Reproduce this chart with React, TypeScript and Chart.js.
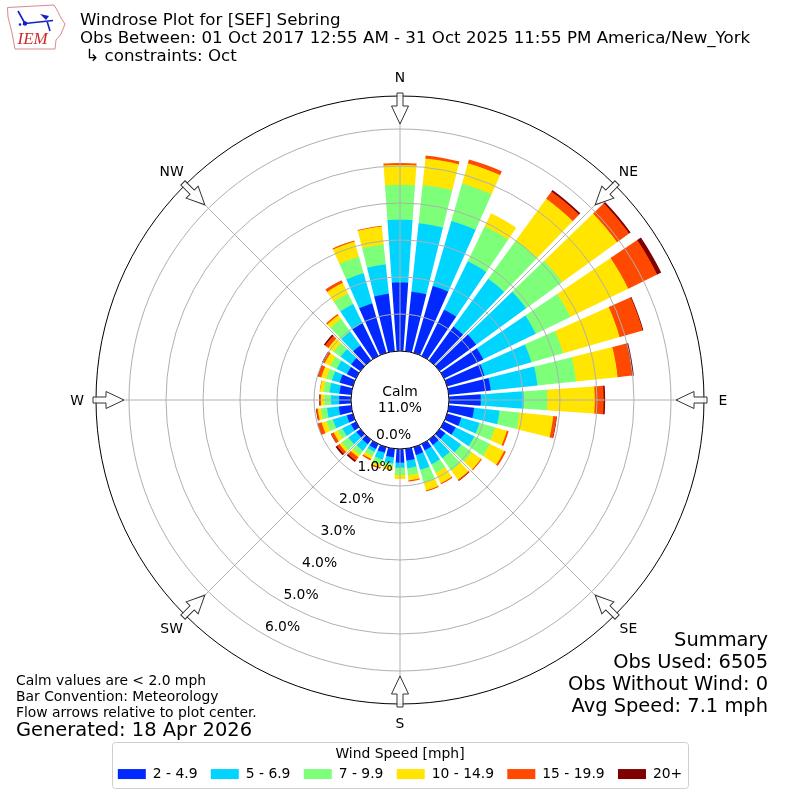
import React, { useEffect, useRef } from "react";
import { Chart, registerables } from "chart.js";

Chart.register(...registerables);

const FONT = "'DejaVu Sans'";

const compass = ["N", "NE", "E", "SE", "S", "SW", "W", "NW"];
const directions = [0, 10, 20, 30, 40, 50, 60, 70, 80, 90, 100, 110, 120, 130, 140, 150, 160, 170, 180, 190, 200, 210, 220, 230, 240, 250, 260, 270, 280, 290, 300, 310, 320, 330, 340, 350];
const binLabels = ["2 - 4.9", "5 - 6.9", "7 - 9.9", "10 - 14.9", "15 - 19.9", "20+"];
const binColors = ["#0028ff", "#00d5ff", "#7dff7a", "#ffe500", "#ff4800", "#7f0000"];

const bin2to5 = [1.85, 1.62, 1.88, 1.39, 1.13, 1.22, 1.18, 1.05, 1.14, 0.86, 0.69, 0.40, 0.35, 0.19, 0.18, 0.19, 0.22, 0.32, 0.37, 0.23, 0.16, 0.15, 0.15, 0.13, 0.15, 0.17, 0.34, 0.32, 0.32, 0.37, 0.27, 0.31, 0.50, 0.98, 1.39, 1.56];
const bin5to7 = [1.70, 1.86, 1.83, 1.46, 1.60, 1.67, 1.58, 1.32, 1.27, 1.16, 0.69, 0.51, 0.56, 0.53, 0.44, 0.42, 0.42, 0.21, 0.14, 0.17, 0.19, 0.09, 0.22, 0.27, 0.26, 0.39, 0.32, 0.22, 0.27, 0.22, 0.31, 0.35, 0.46, 0.58, 0.85, 0.80];
const bin7to10 = [0.94, 1.04, 1.05, 1.05, 1.28, 1.20, 1.04, 0.89, 1.05, 0.64, 0.54, 0.44, 0.47, 0.35, 0.41, 0.26, 0.35, 0.19, 0.19, 0.08, 0.15, 0.12, 0.14, 0.22, 0.14, 0.18, 0.16, 0.18, 0.16, 0.16, 0.19, 0.23, 0.42, 0.32, 0.46, 0.54];
const bin10to15 = [0.54, 0.72, 0.57, 0.39, 1.39, 1.84, 1.74, 1.59, 1.13, 1.28, 0.92, 0.33, 0.43, 0.31, 0.31, 0.31, 0.23, 0.14, 0.11, 0.09, 0.07, 0.09, 0.08, 0.08, 0.12, 0.14, 0.09, 0.09, 0.10, 0.14, 0.17, 0.18, 0.13, 0.32, 0.43, 0.49];
const bin15to20 = [0.05, 0.08, 0.11, 0, 0.24, 0.40, 0.87, 0.65, 0.39, 0.24, 0.09, 0.05, 0.05, 0.03, 0.03, 0.03, 0.03, 0.03, 0, 0.01, 0.04, 0.04, 0.11, 0.08, 0.08, 0.11, 0.04, 0.04, 0.01, 0.09, 0.05, 0.11, 0.04, 0.08, 0.03, 0.02];
const bin20plus = [0, 0, 0, 0, 0.05, 0.05, 0.12, 0.02, 0.05, 0.04, 0.01, 0, 0, 0, 0.01, 0, 0, 0, 0, 0, 0, 0, 0.05, 0.05, 0.01, 0.01, 0.01, 0.01, 0, 0.01, 0.03, 0.04, 0, 0, 0, 0];
const bins = [bin2to5, bin5to7, bin7to10, bin10to15, bin15to20, bin20plus];

const radialTicks = [0, 1, 2, 3, 4, 5, 6];
const radialMin = -1.3243;
const radialMax = 6.892;
const barDegrees = 8;
const gapDegrees = 2;

const titleLines = [
  "Windrose Plot for [SEF] Sebring",
  "Obs Between: 01 Oct 2017 12:55 AM - 31 Oct 2025 11:55 PM America/New_York",
  " \u21b3 constraints: Oct",
];
const noteLines = ["Calm values are < 2.0 mph", "Bar Convention: Meteorology", "Flow arrows relative to plot center."];
const generatedText = "Generated: 18 Apr 2026";
const summaryLines = ["Summary", "Obs Used: 6505", "Obs Without Wind: 0", "Avg Speed: 7.1 mph"];
const calmLines = ["Calm", "11.0%"];

// slots: half of the north bar, then gap + bar for each direction, then gap and the other half of north
function slotAngles(): number[] {
  const out = [barDegrees / 2];
  for (let i = 1; i < directions.length; i++) out.push(gapDegrees, barDegrees);
  out.push(gapDegrees, barDegrees / 2);
  return out;
}
function slotValues(values: number[]): number[] {
  const out = [values[0]];
  for (let i = 1; i < values.length; i++) out.push(radialMin, values[i]);
  out.push(radialMin, values[0]);
  return out;
}
const angles = slotAngles();
const cumulative = bins.map((_, b) => directions.map((_d, i) => bins.slice(0, b + 1).reduce((s, arr) => s + arr[i], 0)));

function drawLogo(ctx: CanvasRenderingContext2D) {
  ctx.save();
  ctx.beginPath();
  const outline = [[7.5, 7.5], [54, 5], [57, 10], [61, 18], [65, 24], [61, 34], [56, 40], [55, 49], [15, 49], [12, 33], [8, 17]];
  outline.forEach(([x, y], i) => (i ? ctx.lineTo(x, y) : ctx.moveTo(x, y)));
  ctx.closePath();
  ctx.fillStyle = "#fff";
  ctx.fill();
  ctx.strokeStyle = "#d98a8a";
  ctx.lineWidth = 1;
  ctx.stroke();
  ctx.strokeStyle = "#1420c8";
  ctx.fillStyle = "#1420c8";
  ctx.lineWidth = 1.6;
  ctx.beginPath();
  ctx.moveTo(25, 23.5);
  ctx.lineTo(53, 20.5);
  ctx.moveTo(18, 11);
  ctx.lineTo(25, 23.5);
  ctx.moveTo(47, 21);
  ctx.lineTo(50, 31);
  ctx.stroke();
  ctx.beginPath();
  ctx.moveTo(40, 14);
  ctx.lineTo(49, 16);
  ctx.lineTo(46, 20);
  ctx.closePath();
  ctx.fill();
  ctx.beginPath();
  ctx.arc(25, 23.5, 2.2, 0, Math.PI * 2);
  ctx.arc(20, 24.5, 1.3, 0, Math.PI * 2);
  ctx.fill();
  ctx.fillStyle = "#d02828";
  ctx.font = "italic 17px 'Liberation Serif'";
  ctx.textAlign = "left";
  ctx.textBaseline = "alphabetic";
  ctx.fillText("IEM", 17.5, 44);
  ctx.restore();
}

const decorations = {
  id: "decorations",
  // turn each overlaid wedge into the ring of its own speed bin
  afterDatasetsUpdate(chart: any) {
    const scale = chart.scales.r;
    bins.forEach((values, b) => {
      if (b === 0) return;
      const arcs = chart.getDatasetMeta(b).data;
      arcs.forEach((arc: any, slot: number) => {
        if (slot % 2 === 1) return;
        const dir = (slot / 2) % directions.length;
        if (values[dir] === 0) {
          arc.outerRadius = 0;
          arc.innerRadius = 0;
        } else {
          arc.innerRadius = scale.getDistanceFromCenterForValue(cumulative[b - 1][dir]) - 0.5;
        }
      });
    });
  },
  beforeDraw(chart: any) {
    const ctx: CanvasRenderingContext2D = chart.ctx;
    ctx.save();
    ctx.fillStyle = "#fff";
    ctx.fillRect(0, 0, 800, 800);
    ctx.strokeStyle = "#cfcfcf";
    ctx.lineWidth = 1;
    ctx.beginPath();
    (ctx as any).roundRect(112.5, 742.5, 576, 46, 3);
    ctx.stroke();
    ctx.restore();
  },
  afterDraw(chart: any) {
    const ctx: CanvasRenderingContext2D = chart.ctx;
    const scale = chart.scales.r;
    const cx = scale.xCenter;
    const cy = scale.yCenter;
    const holeR = scale.getDistanceFromCenterForValue(0);
    ctx.save();

    ctx.beginPath();
    ctx.arc(cx, cy, holeR, 0, Math.PI * 2);
    ctx.fillStyle = "#fff";
    ctx.fill();
    ctx.strokeStyle = "#000";
    ctx.lineWidth = 1;
    ctx.stroke();

    compass.forEach((name, i) => {
      ctx.save();
      ctx.translate(cx, cy);
      ctx.rotate(scale.getIndexAngle(i));
      const pts = [[-3, -307], [3, -307], [3, -294], [8.5, -294], [0, -276], [-8.5, -294], [-3, -294]];
      ctx.beginPath();
      pts.forEach(([x, y], k) => (k ? ctx.lineTo(x, y) : ctx.moveTo(x, y)));
      ctx.closePath();
      ctx.fillStyle = "rgba(255,255,255,0.85)";
      ctx.fill();
      ctx.strokeStyle = "#333";
      ctx.lineWidth = 1;
      ctx.stroke();
      ctx.restore();

      const p = scale.getPointPosition(i, 323);
      ctx.fillStyle = "#000";
      ctx.font = `13.89px ${FONT}`;
      ctx.textAlign = "center";
      ctx.textBaseline = "middle";
      ctx.fillText(name, p.x, p.y + 1);
    });

    ctx.fillStyle = "#000";
    ctx.font = `13.89px ${FONT}`;
    ctx.textAlign = "center";
    ctx.textBaseline = "middle";
    radialTicks.forEach((t) => {
      const d = scale.getDistanceFromCenterForValue(t);
      const p = scale.getPointPosition(0, d, (210 * Math.PI) / 180);
      ctx.fillText(`${t.toFixed(1)}%`, p.x + 18, p.y - 7);
    });
    ctx.fillText(calmLines[0], cx, 392);
    ctx.fillText(calmLines[1], cx, 408);

    ctx.textAlign = "left";
    ctx.textBaseline = "alphabetic";
    ctx.font = `16.67px ${FONT}`;
    titleLines.forEach((line, i) => ctx.fillText(line, 80, 25 + i * 18));

    ctx.font = `13.89px ${FONT}`;
    noteLines.forEach((line, i) => ctx.fillText(line, 16, 685 + i * 16));
    ctx.font = `19.44px ${FONT}`;
    ctx.fillText(generatedText, 16, 736);

    ctx.textAlign = "right";
    summaryLines.forEach((line, i) => ctx.fillText(line, 768, 646 + i * 22));

    drawLogo(ctx);
    ctx.restore();
  },
};

export default function App() {
  const ref = useRef<HTMLCanvasElement | null>(null);
  useEffect(() => {
    if (!ref.current) return;
    Chart.defaults.font.family = FONT;
    const chart = new Chart(ref.current, {
      type: "polarArea",
      data: {
        labels: compass,
        datasets: cumulative.map((values, b) => ({
          label: binLabels[b],
          data: slotValues(values),
          backgroundColor: binColors[b],
          borderWidth: 0,
          angle: (ctx: any) => angles[ctx.dataIndex],
        })),
      } as any,
      options: {
        responsive: false,
        animation: false,
        events: [],
        layout: { padding: { top: 96, left: 96, right: 96, bottom: 9 } },
        scales: {
          r: {
            min: radialMin,
            max: radialMax,
            startAngle: 0,
            afterBuildTicks: (axis: any) => {
              axis.ticks = [...radialTicks, radialMax].map((value) => ({ value }));
            },
            ticks: { display: false },
            pointLabels: { display: false },
            angleLines: { display: true, color: "#b0b0b0", lineWidth: 1 },
            grid: {
              z: 1,
              circular: true,
              lineWidth: 1,
              color: (ctx: any) => (ctx.tick && ctx.tick.value > 6.5 ? "#000" : "#b0b0b0"),
            },
          },
        } as any,
        plugins: {
          tooltip: { enabled: false },
          title: { display: false },
          legend: {
            display: true,
            position: "bottom",
            title: {
              display: true,
              text: "Wind Speed [mph]",
              color: "#000",
              font: { family: FONT, size: 13.89 },
              padding: { top: 43, bottom: -9.92 },
            },
            labels: {
              boxWidth: 28,
              boxHeight: 10,
              padding: 13.3,
              color: "#000",
              font: { family: FONT, size: 13.89 },
              generateLabels: () =>
                binLabels.map((text, i) => ({
                  text,
                  fillStyle: binColors[i],
                  strokeStyle: binColors[i],
                  lineWidth: 0,
                  hidden: false,
                  datasetIndex: i,
                  fontColor: "#000",
                })),
            },
          },
        },
      } as any,
      plugins: [decorations],
    } as any);
    return () => chart.destroy();
  }, []);
  return (
    <div style={{ position: "absolute", left: 0, top: 0, width: 800, height: 800 }}>
      <canvas ref={ref} width={800} height={800} style={{ display: "block" }} />
    </div>
  );
}
